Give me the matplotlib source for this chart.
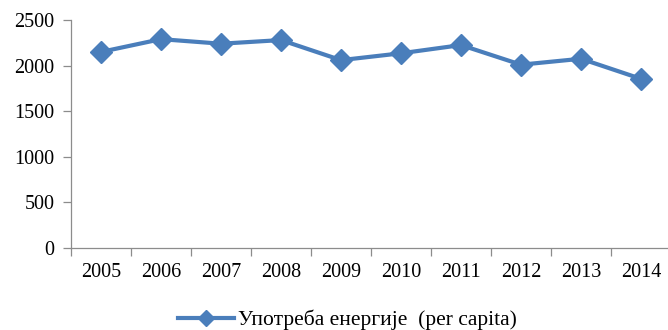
import matplotlib
matplotlib.use("Agg")
import matplotlib.pyplot as plt
from matplotlib.lines import Line2D

years = ["2005", "2006", "2007", "2008", "2009", "2010", "2011", "2012", "2013", "2014"]
energy_use = [2150, 2290, 2240, 2280, 2060, 2135, 2225, 2010, 2075, 1855]
y_ticks = [0, 500, 1000, 1500, 2000, 2500]
series_label = "Употреба енергије  (per capita)"

blue = "#4a7ebb"
axis_grey = "#8c8c8c"
plt.rcParams["font.family"] = ["Liberation Serif", "DejaVu Serif"]

W, H = 668, 330
fig = plt.figure(figsize=(W / 100, H / 100), dpi=100)
ax = fig.add_axes([71 / W, 1 - 248 / H, 600 / W, 228 / H])

x = list(range(len(years)))
ax.plot(x, energy_use, color=blue, lw=3.0, marker="D", ms=11,
        markeredgecolor=blue, markerfacecolor=blue, clip_on=False, zorder=3)

ax.set_xlim(-0.5, len(years) - 0.5)
ax.set_ylim(0, 2500)
ax.set_yticks(y_ticks)
ax.set_yticklabels([str(v) for v in y_ticks], fontsize=14.5)
ax.set_xticks(x)
ax.set_xticklabels(years, fontsize=14.5)
ax.set_xticks([i - 0.5 for i in x], minor=True)

for side in ("top", "right"):
    ax.spines[side].set_visible(False)
for side in ("left", "bottom"):
    ax.spines[side].set_color(axis_grey)
    ax.spines[side].set_linewidth(0.9)

ax.tick_params(axis="y", length=6, width=0.9, color=axis_grey, pad=6)
ax.tick_params(axis="x", which="major", length=0, pad=11)
ax.tick_params(axis="x", which="minor", length=6, width=0.9, color=axis_grey)

handle = Line2D([], [], color=blue, lw=3.0, marker="D", ms=8,
                markerfacecolor=blue, markeredgecolor=blue)
fig.legend([handle], [series_label], loc="center", bbox_to_anchor=(0.52, 1 - 320 / H),
           frameon=False, fontsize=15.5, handlelength=2.6, handletextpad=0.15,
           borderaxespad=0)

fig.savefig("out.png", dpi=100)
